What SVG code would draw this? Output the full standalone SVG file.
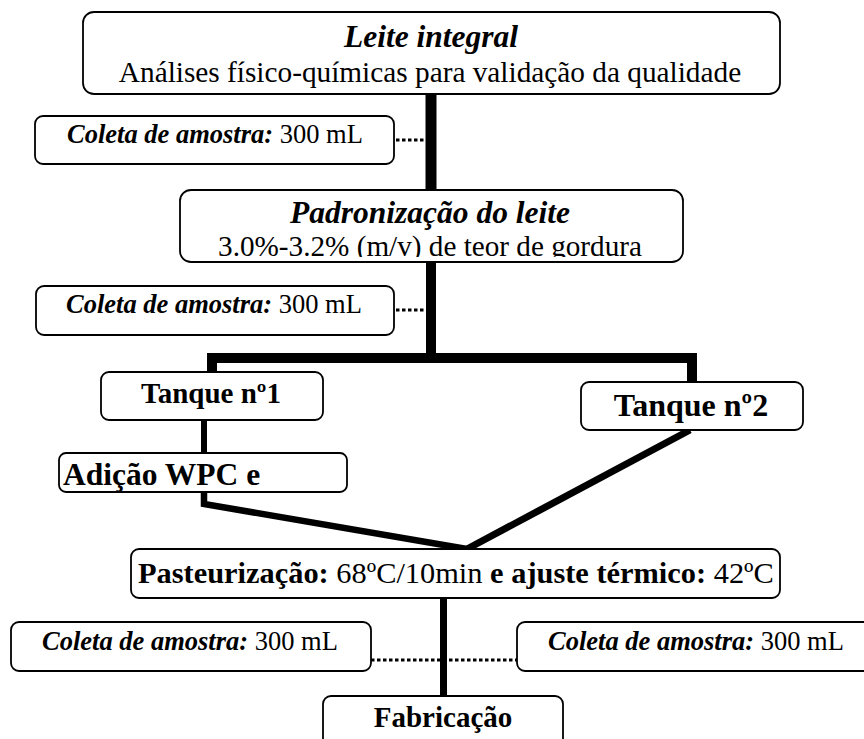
<svg xmlns="http://www.w3.org/2000/svg" width="864" height="739" viewBox="0 0 864 739">
<style>
.box{fill:#fff;stroke:#000;stroke-width:1.8}
text{font-family:"Liberation Serif","Times New Roman",serif;fill:#000}
.bi{font-weight:bold;font-style:italic}
.b{font-weight:bold}
.n{font-weight:normal;font-style:normal}
.thick{fill:none;stroke:#000;stroke-linejoin:miter}
.dots{fill:none;stroke:#000;stroke-width:3;stroke-dasharray:3.5 2.5}
</style>
<defs>
<clipPath id="padClip"><rect x="180" y="190" width="503" height="67"/></clipPath>
</defs>
<g id="connectors">
<line class="thick" x1="431" y1="94" x2="431" y2="192" stroke-width="11"/>
<polyline class="thick" points="431,262 431,358 212,358 212,373" stroke-width="10"/>
<polyline class="thick" points="431,358 692,358 692,383" stroke-width="10"/>
<line class="thick" x1="204" y1="420" x2="204" y2="454" stroke-width="6"/>
<polyline class="thick" points="204,492 204,504 467,549" stroke-width="6.5"/>
<line class="thick" x1="690" y1="430" x2="467" y2="549" stroke-width="7"/>
<line class="thick" x1="443.5" y1="598" x2="443.5" y2="697" stroke-width="7"/>
<line class="dots" x1="396" y1="140" x2="426" y2="140"/>
<line class="dots" x1="396" y1="310" x2="426" y2="310"/>
<line class="dots" x1="371" y1="660" x2="517" y2="660"/>
</g>
<g id="leite">
<rect class="box" x="83" y="12" width="697" height="82" rx="11"/>
<text class="bi" x="431" y="47" font-size="31.5" text-anchor="middle">Leite integral</text>
<text x="430" y="82" font-size="29.3" text-anchor="middle">Análises físico-químicas para validação da qualidade</text>
</g>
<g id="coleta1">
<rect class="box" x="35" y="116" width="359" height="48" rx="8"/>
<text x="67" y="143" font-size="26.5"><tspan class="bi">Coleta de amostra:</tspan> 300 mL</text>
</g>
<g id="padronizacao">
<rect class="box" x="180" y="190" width="503" height="72" rx="11"/>
<text class="bi" x="430" y="223" font-size="31.5" text-anchor="middle">Padronização do leite</text>
<text x="430" y="256" font-size="29.2" text-anchor="middle" clip-path="url(#padClip)">3.0%-3.2% (m/v) de teor de gordura</text>
</g>
<g id="coleta2">
<rect class="box" x="36" y="286" width="358" height="49" rx="8"/>
<text x="66" y="313" font-size="26.5"><tspan class="bi">Coleta de amostra:</tspan> 300 mL</text>
</g>
<g id="tanque1">
<rect class="box" x="101" y="372" width="222" height="48" rx="8"/>
<text class="b" x="211" y="403" font-size="29" text-anchor="middle">Tanque nº1</text>
</g>
<g id="tanque2">
<rect class="box" x="581" y="382" width="222" height="48" rx="8"/>
<text class="b" x="691" y="416" font-size="32" text-anchor="middle">Tanque nº2</text>
</g>
<g id="adicao">
<rect class="box" x="59" y="453" width="288" height="39" rx="7"/>
<text class="b" x="63" y="485" font-size="31.5">Adição WPC e</text>
</g>
<g id="pasteurizacao">
<rect class="box" x="131" y="549" width="649" height="49" rx="8"/>
<text x="138" y="583" font-size="30.4"><tspan class="b">Pasteurização:</tspan> 68ºC/10min<tspan class="b"> e ajuste térmico:</tspan> 42ºC</text>
</g>
<g id="coleta3">
<rect class="box" x="11" y="622" width="360" height="49" rx="8"/>
<text x="42" y="650" font-size="26.5"><tspan class="bi">Coleta de amostra:</tspan> 300 mL</text>
</g>
<g id="coleta4">
<rect class="box" x="517" y="622" width="360" height="49" rx="8"/>
<text x="548" y="650" font-size="26.5"><tspan class="bi">Coleta de amostra:</tspan> 300 mL</text>
</g>
<g id="fabricacao">
<rect class="box" x="323" y="696" width="240" height="60" rx="8"/>
<text class="b" x="443" y="727" font-size="29" text-anchor="middle">Fabricação</text>
</g>
</svg>
